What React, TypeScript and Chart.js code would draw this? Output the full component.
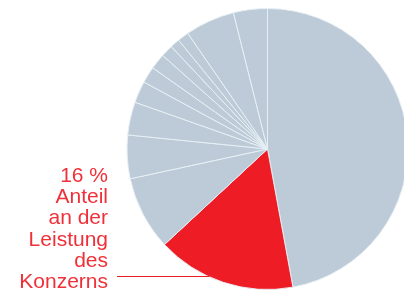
import React, { useEffect, useRef } from "react";
import { Chart, registerables } from "chart.js";

Chart.register(...registerables);

const categories = [
  "Konzern-Rest",
  "Anteil",
  "S3", "S4", "S5", "S6", "S7", "S8", "S9", "S10", "S11", "S12", "S13",
];
const values = [47.1, 16, 8.5, 5, 3.8, 2.5, 1.9, 1.8, 1.4, 1.1, 1.3, 5.7, 3.9];
const highlightIndex = 1;
const labelLines = ["16 %", "Anteil", "an der", "Leistung", "des", "Konzerns"];

const GRAY = "#bccbd7";
const RED = "#ee1c25";
const TEXT_RED = "#f03038";

const labelPlugin = {
  id: "leaderLabel",
  afterDraw(chart: any) {
    const ctx = chart.ctx;
    const meta = chart.getDatasetMeta(0);
    const arc = meta.data[highlightIndex] as any;
    if (!arc) return;
    const { x: cx, y: cy, outerRadius: r } = arc.getProps(["x", "y", "outerRadius"], true);
    ctx.save();
    ctx.fillStyle = TEXT_RED;
    ctx.font = '21px "Liberation Sans", Arial, sans-serif';
    ctx.textAlign = "right";
    ctx.textBaseline = "alphabetic";
    const rightX = 108;
    const firstBase = 182;
    const step = 21.2;
    labelLines.forEach((t, i) => ctx.fillText(t, rightX, firstBase + i * step));
    // leader line
    const ly = 276.5;
    const dy = ly - cy;
    const ex = cx - Math.sqrt(Math.max(r * r - dy * dy, 0));
    ctx.strokeStyle = RED;
    ctx.lineWidth = 1.2;
    ctx.beginPath();
    ctx.moveTo(117, ly);
    ctx.lineTo(ex + 1, ly);
    ctx.stroke();
    ctx.restore();
  },
};

export default function App() {
  const ref = useRef<HTMLCanvasElement | null>(null);
  useEffect(() => {
    document.body.style.margin = "0";
    const canvas = ref.current!;
    const chart = new Chart(canvas, {
      type: "pie",
      data: {
        labels: categories,
        datasets: [
          {
            data: values,
            backgroundColor: values.map((_, i) => (i === highlightIndex ? RED : GRAY)),
            borderColor: "rgba(232,240,245,0.95)",
            borderWidth: 1,
          },
        ],
      },
      options: {
        responsive: false,
        animation: false,
        layout: { padding: { left: 126, right: 1, top: 8, bottom: 6 } },
        plugins: {
          legend: { display: false },
          tooltip: { enabled: false },
        },
      },
      plugins: [labelPlugin],
    });
    return () => chart.destroy();
  }, []);
  return (
    <div style={{ position: "absolute", left: 0, top: 0, width: 404, height: 296, overflow: "hidden", background: "#fff" }}>
      <canvas ref={ref} width={410} height={296} style={{ width: 410, height: 296, display: "block" }} />
    </div>
  );
}
